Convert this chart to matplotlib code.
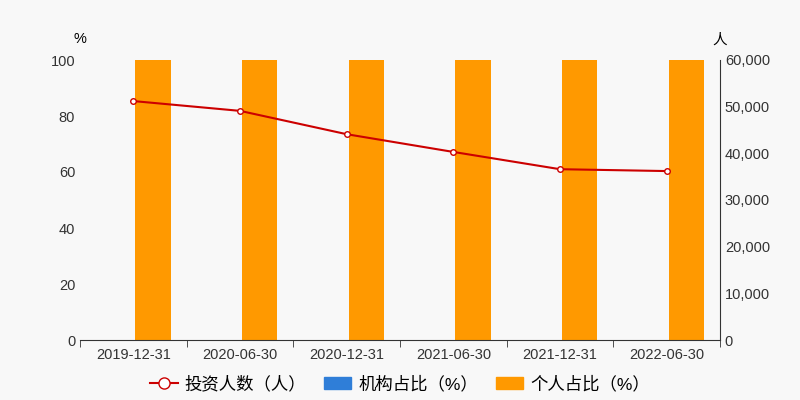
import matplotlib
matplotlib.use("Agg")
import matplotlib.pyplot as plt
import numpy as np
from matplotlib.lines import Line2D
from matplotlib.patches import Patch

plt.rcParams['font.family'] = ['Liberation Sans', 'Noto Sans CJK SC', 'DejaVu Sans']

categories = ["2019-12-31", "2020-06-30", "2020-12-31", "2021-06-30", "2021-12-31", "2022-06-30"]
investors = [51200, 49100, 44100, 40300, 36600, 36200]
inst_pct = [0.1, 0.1, 0.15, 0.15, 0.1, 0.1]
indiv_pct = [99.9, 99.9, 99.85, 99.85, 99.9, 99.9]

bg = "#f8f8f8"
fig = plt.figure(figsize=(8, 4), dpi=100, facecolor=bg)
ax = fig.add_axes([0.1, 0.15, 0.8, 0.7], facecolor=bg)
x = np.arange(len(categories))
w = 0.33
ax.bar(x - w/2 + 0.02, inst_pct, w, color="#2f7ed8", zorder=2)
ax.bar(x + w/2 + 0.02, indiv_pct, w, color="#ff9900", zorder=2)
ax.set_xlim(-0.5, len(categories) - 0.5)
ax.set_ylim(0, 100)
ax.set_yticks(range(0, 101, 20))
ax.set_xticks(x)
ax.set_xticklabels(categories)
ax.set_xticks(np.arange(-0.5, len(categories)), minor=True)
ax.tick_params(axis='x', which='major', length=0, pad=6, labelsize=10.5)
ax.tick_params(axis='x', which='minor', length=5, color="#333333")
ax.tick_params(axis='y', length=0, colors="#333333", labelsize=10.5)
ax.tick_params(axis='x', colors="#333333")
for s in ["top", "right", "left"]:
    ax.spines[s].set_visible(False)
ax.spines["bottom"].set_color("#333333")
ax.text(-0.0, 1.06, "%", transform=ax.transAxes, ha="center", fontsize=10.5)

ax2 = ax.twinx()
ax2.plot(x, investors, color="#cc0000", lw=1.5, marker="o", ms=4, mfc="white", mec="#cc0000", zorder=3)
ax2.set_ylim(0, 60000)
ax2.set_yticks(range(0, 60001, 10000))
ax2.set_yticklabels([f"{v:,}" for v in range(0, 60001, 10000)])
ax2.tick_params(axis='y', length=0, colors="#333333", labelsize=10.5)
for s in ["top", "left", "bottom"]:
    ax2.spines[s].set_visible(False)
ax2.spines["right"].set_color("#333333")
ax2.text(1.0, 1.06, "人", transform=ax.transAxes, ha="center", fontsize=10.5)

handles = [Line2D([0], [0], color="#cc0000", marker="o", mfc="white", ms=8, lw=1.5),
           Patch(color="#2f7ed8"), Patch(color="#ff9900")]
labels = ["投资人数（人）", "机构占比（%）", "个人占比（%）"]
fig.legend(handles, labels, loc="lower center", ncol=3, frameon=False, fontsize=12.5,
           bbox_to_anchor=(0.5, -0.02), handlelength=1.6, columnspacing=1.0, handletextpad=0.4)
fig.savefig("out.png", facecolor=bg)
